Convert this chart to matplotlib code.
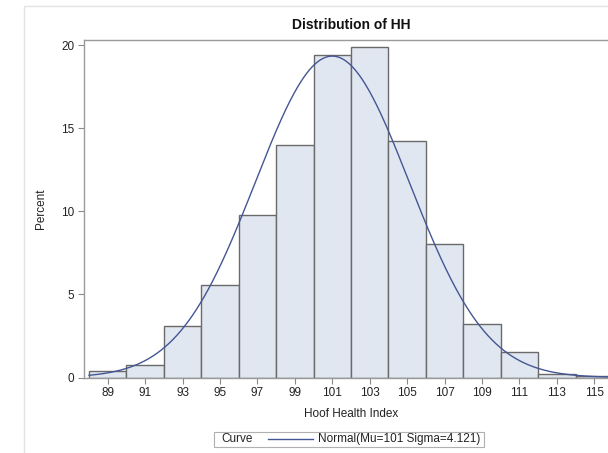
import numpy as np
import matplotlib
matplotlib.use("Agg")
import matplotlib.pyplot as plt
from matplotlib.patches import Rectangle
from matplotlib.lines import Line2D

plt.rcParams['font.family'] = ['Liberation Sans', 'DejaVu Sans']

# Data
bin_left = [88, 90, 92, 94, 96, 98, 100, 102, 104, 106, 108, 110, 112, 114]
percent = [0.38, 0.75, 3.10, 5.57, 9.78, 13.98, 19.40, 19.89, 14.22, 8.03, 3.23, 1.52, 0.24, 0.09]
bin_width = 2
mu = 101
sigma = 4.121
xticks = [89, 91, 93, 95, 97, 99, 101, 103, 105, 107, 109, 111, 113, 115]
yticks = [0, 5, 10, 15, 20]

W, H = 608, 453
fig = plt.figure(figsize=(W / 100, H / 100), dpi=100)

# outer light border (clipped at right/bottom)
fig.patches.append(Rectangle((24 / W, -0.1), 2.0, 1 - 6.5 / H + 0.1, transform=fig.transFigure,
                             fill=False, edgecolor='#E2E2E2', linewidth=1.0))

ax_l, ax_r, ax_t, ax_b = 84, 618, 40, 377.5
ax = fig.add_axes([ax_l / W, (H - ax_b) / H, (ax_r - ax_l) / W, (ax_b - ax_t) / H])

ax.bar(bin_left, percent, width=bin_width, align='edge', color='#E1E7F0',
       edgecolor='#6A6A6A', linewidth=1.0, zorder=2)

xs = np.linspace(88, 116.27, 400)
pdf = 100 * bin_width / (sigma * np.sqrt(2 * np.pi)) * np.exp(-0.5 * ((xs - mu) / sigma) ** 2)
curve_color = '#445694'
ax.plot(xs, pdf, color=curve_color, linewidth=1.0, zorder=3)

ax.set_xlim(87.73, 116.27)
ax.set_ylim(0, 20.33)
ax.set_xticks(xticks)
ax.set_yticks(yticks)
ax.tick_params(axis='both', direction='out', length=4, width=0.8, color='#8A8A8A',
               labelsize=8.5, labelcolor='#222222', pad=3)
for s in ax.spines.values():
    s.set_color('#9A9A9A')
    s.set_linewidth(1.0)

ax.set_title('Distribution of HH', fontsize=10, fontweight='bold', color='#111111', pad=8)
ax.set_xlabel('Hoof Health Index', fontsize=8.5, color='#222222', labelpad=6)
ax.set_ylabel('Percent', fontsize=8.5, color='#222222', labelpad=10)

# legend box at bottom
lx0, lx1, ly0, ly1 = 214, 484, 431.5, 447
fig.patches.append(Rectangle((lx0 / W, (H - ly1) / H), (lx1 - lx0) / W, (ly1 - ly0) / H,
                             transform=fig.transFigure, fill=False, edgecolor='#B0B0B0', linewidth=0.8))
ly = (H - (ly0 + ly1) / 2) / H
fig.text(221 / W, ly, 'Curve', fontsize=8.5, color='#222222', va='center', ha='left')
fig.lines.append(Line2D([268 / W, 313 / W], [ly, ly], transform=fig.transFigure,
                        color=curve_color, linewidth=1.0))
fig.text(318 / W, ly, 'Normal(Mu=%g Sigma=%.3f)' % (mu, sigma), fontsize=8.5, color='#222222',
         va='center', ha='left')

fig.savefig('out.png', dpi=100)
